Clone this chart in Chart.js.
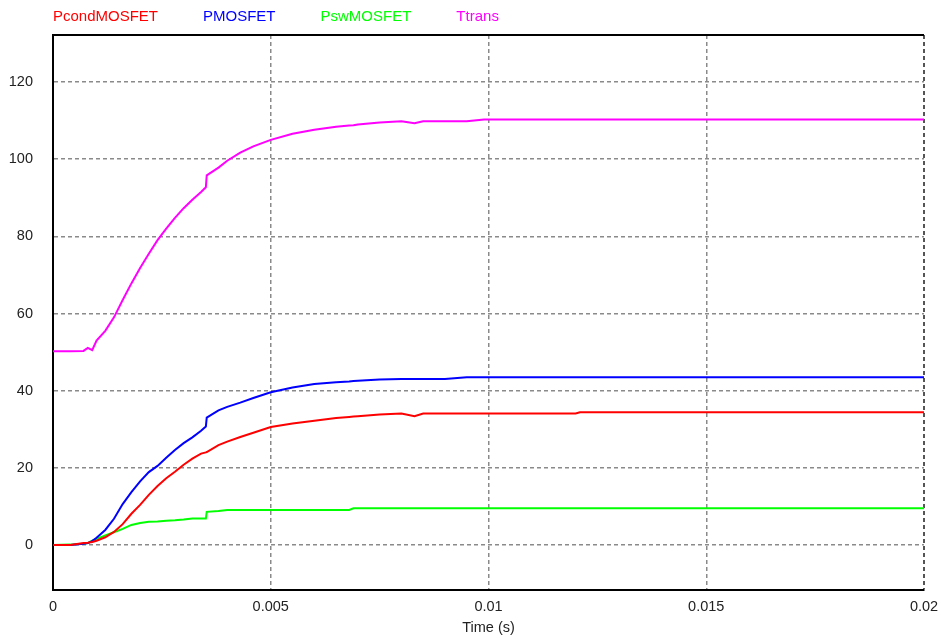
<!DOCTYPE html>
<html>
<head>
<meta charset="utf-8">
<script src="https://cdn.jsdelivr.net/npm/chart.js@4.4.1/dist/chart.umd.min.js"></script>
<style>
  html, body { margin: 0; padding: 0; background: #ffffff; }
  #wrap { position: relative; width: 941px; height: 639px; }
</style>
</head>
<body>
<div id="wrap"><canvas id="c"></canvas></div>
<script>
// ---- Data ----
const seriesNames = ["PcondMOSFET", "PMOSFET", "PswMOSFET", "Ttrans"];
const seriesColors = ["#ff0000", "#0000ff", "#00ff00", "#ff00ff"];

const time = [0, 0.0004, 0.0007, 0.0008, 0.0009, 0.001, 0.0012, 0.0014, 0.0016, 0.0018,
  0.002, 0.0022, 0.0024, 0.0026, 0.0028, 0.003, 0.0032, 0.0034, 0.00351, 0.00353,
  0.0038, 0.004, 0.0043, 0.0046, 0.005, 0.0055, 0.006, 0.0065, 0.0068, 0.0069,
  0.007, 0.0075, 0.008, 0.0083, 0.0085, 0.009, 0.0095, 0.0099, 0.012, 0.0121,
  0.015, 0.02];

const pcondMOSFET = [0, 0, 0.5, 0.6, 0.8, 1.1, 2.0, 3.4, 5.4, 8.1,
  10.4, 13.0, 15.3, 17.3, 19.0, 20.8, 22.4, 23.7, 24.0, 24.1,
  25.9, 26.8, 28.0, 29.1, 30.6, 31.5, 32.2, 32.9, 33.2, 33.3,
  33.4, 33.8, 34.1, 33.4, 34.1, 34.1, 34.1, 34.1, 34.1, 34.4,
  34.4, 34.4];

const pMOSFET = [0, 0, 0.3, 0.5, 1.0, 1.9, 3.9, 6.8, 10.6, 13.7,
  16.5, 18.9, 20.5, 22.6, 24.6, 26.4, 27.9, 29.6, 30.7, 33.0,
  34.9, 35.8, 36.9, 38.1, 39.6, 40.8, 41.7, 42.2, 42.4, 42.5,
  42.6, 42.9, 43.0, 43.0, 43.0, 43.0, 43.5, 43.5, 43.5, 43.5,
  43.5, 43.5];

const pswMOSFET = [0, 0.1, 0.3, 0.5, 1.1, 1.6, 2.5, 3.3, 4.2, 5.2,
  5.7, 6.0, 6.1, 6.3, 6.4, 6.6, 6.9, 6.9, 6.9, 8.6,
  8.8, 9.1, 9.1, 9.1, 9.1, 9.1, 9.1, 9.1, 9.1, 9.5,
  9.5, 9.5, 9.5, 9.5, 9.5, 9.5, 9.5, 9.5, 9.5, 9.5,
  9.5, 9.5];

const tTrans = [50.2, 50.2, 50.3, 51.1, 50.5, 53.0, 55.5, 59.0, 63.5, 67.8,
  71.8, 75.5, 79.0, 82.0, 84.8, 87.3, 89.5, 91.5, 92.7, 95.8,
  97.8, 99.6, 101.7, 103.3, 105.0, 106.6, 107.6, 108.4, 108.7, 108.8,
  109.0, 109.5, 109.8, 109.3, 109.8, 109.8, 109.8, 110.3, 110.3, 110.3,
  110.3, 110.3];

const xTicks = [0, 0.005, 0.01, 0.015, 0.02];
const yTicks = [0, 20, 40, 60, 80, 100, 120];
const xTitle = "Time (s)";

// ---- Chart ----
const allSeries = [pcondMOSFET, pMOSFET, pswMOSFET, tTrans];
const datasets = allSeries.map((vals, i) => ({
  label: seriesNames[i],
  data: time.map((t, k) => ({ x: t, y: vals[k] })),
  borderColor: seriesColors[i],
  backgroundColor: seriesColors[i],
  borderWidth: 2,
  pointRadius: 0,
  tension: 0,
  fill: false
}));

const FONT = '"Liberation Sans", Arial, sans-serif';

const topLegend = {
  id: 'topLegend',
  afterDraw(chart) {
    const ctx = chart.ctx;
    const area = chart.chartArea;
    ctx.save();
    // top border of plot box
    ctx.strokeStyle = '#000';
    ctx.lineWidth = 2;
    ctx.setLineDash([]);
    ctx.beginPath();
    ctx.moveTo(area.left, area.top);
    ctx.lineTo(area.right, area.top);
    ctx.stroke();
    // legend texts
    ctx.font = '15px ' + FONT;
    ctx.textBaseline = 'middle';
    ctx.textAlign = 'left';
    let x = area.left;
    chart.data.datasets.forEach(ds => {
      ctx.fillStyle = ds.borderColor;
      ctx.fillText(ds.label, x, 16.5);
      x += ctx.measureText(ds.label).width + 45;
    });
    ctx.restore();
  }
};

new Chart(document.getElementById('c'), {
  type: 'line',
  data: { datasets },
  options: {
    responsive: true,
    maintainAspectRatio: false,
    animation: false,
    devicePixelRatio: 1,
    layout: { padding: { left: 0, right: 17, top: 35, bottom: 0 } },
    plugins: { legend: { display: false }, tooltip: { enabled: false } },
    scales: {
      x: {
        type: 'linear',
        min: 0,
        max: 0.02,
        afterBuildTicks: s => { s.ticks = xTicks.map(v => ({ value: v })); },
        afterFit: s => { s.height = 49; s.paddingLeft = 0; s.paddingRight = 0; },
        ticks: {
          padding: 8,
          color: '#222',
          font: { family: FONT, size: 14.5 },
          maxRotation: 0,
          callback: v => String(v)
        },
        grid: {
          drawTicks: false,
          color: ctx => (ctx.tick && ctx.tick.value === 0.02) ? '#555' : '#8a8a8a',
          lineWidth: ctx => (ctx.tick && ctx.tick.value === 0.02) ? 2 : 1.5
        },
        border: { display: true, color: '#000', width: 2, dash: [4, 3] },
        title: {
          display: true,
          text: xTitle,
          color: '#222',
          font: { family: FONT, size: 14.5 },
          padding: { top: 0, bottom: 2 }
        }
      },
      y: {
        type: 'linear',
        min: -11.66,
        max: 132.18,
        afterBuildTicks: s => { s.ticks = yTicks.map(v => ({ value: v })); },
        afterFit: s => { s.width = 53; },
        ticks: {
          padding: 20,
          color: '#222',
          font: { family: FONT, size: 14.5 }
        },
        grid: {
          drawTicks: false,
          color: '#8a8a8a',
          lineWidth: 1.5
        },
        border: { display: true, color: '#000', width: 2, dash: [4, 3] }
      }
    }
  },
  plugins: [topLegend]
});
</script>
</body>
</html>
